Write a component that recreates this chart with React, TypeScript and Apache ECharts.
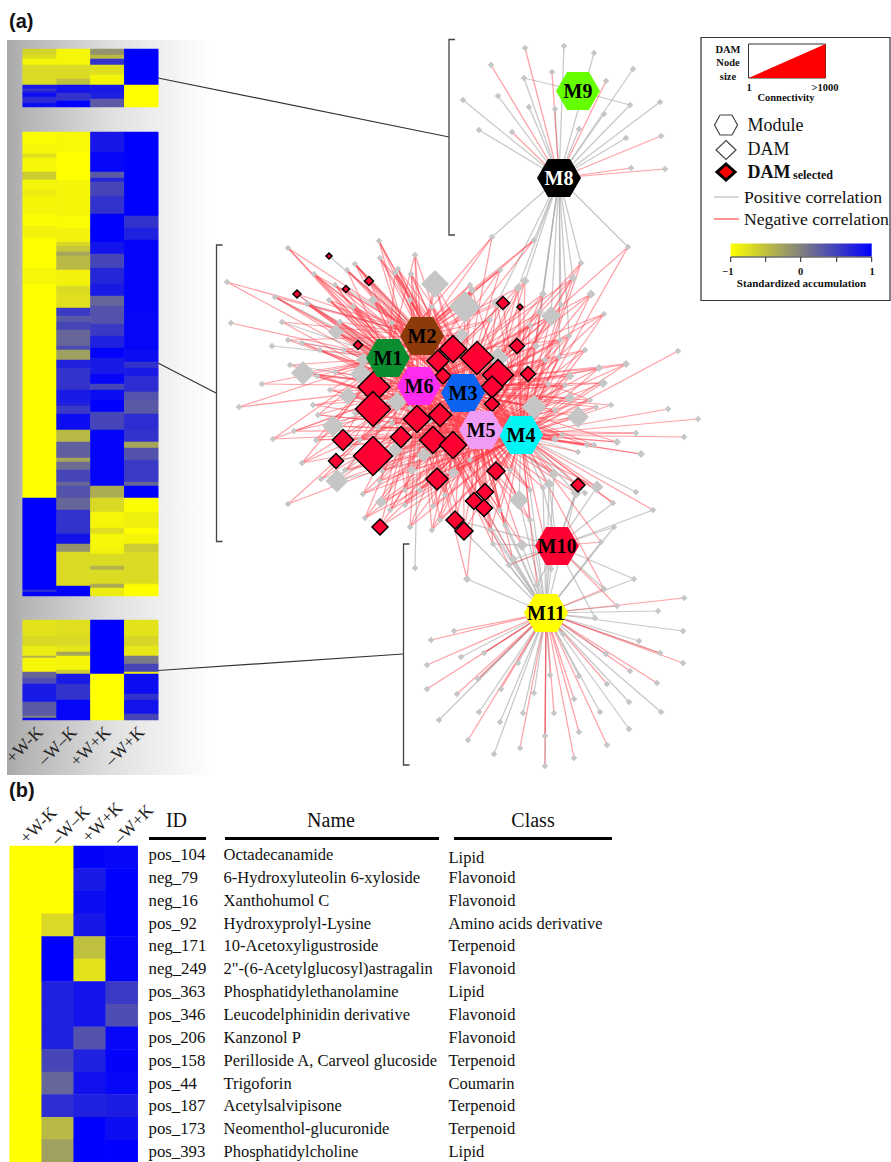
import React, { useEffect, useRef } from "react";
import * as echarts from "echarts";

const SERIF = "Liberation Serif";
const conditions = ["+W-K", "–W–K", "+W+K", "–W+K"];

// Heatmap columns as [rows, standardized accumulation] runs
const heatTop = [
  [[3,-.65],[2,-.75],[3,-.93],[10,-.72],[2,.8],[1,.55],[1,.75],[2,.9],[3,.65],[2,.9]],
  [[8,-.93],[7,-.72],[3,-.5],[4,.85],[4,.6],[3,1]],
  [[3,-.15],[2,-.45],[3,.6],[5,-.75],[5,-.92],[4,.8],[3,.75],[4,.3]],
  [[18,1],[11,-1]],
];
const heatMiddle = [
  [[6,-.98],[5,-.93],[2,-.75],[7,-.93],[4,-.6],[5,-.92],[3,-.85],[9,-.92],[6,-.98],[6,-.9],[15,-1],[8,-.93],[107,-1],[46,1],[1,.6],[2,1]],
  [[10,-.95],[14,-1],[18,-.92],[6,-.97],[7,-.9],[2,-.7],[3,-.55],[2,-.3],[7,-.45],[8,-.9],[4,-.72],[7,-.75],[4,.55],[3,.3],[4,.45],[8,.2],[2,.4],[5,-.25],[4,.75],[4,.6],[7,.6],[6,.8],[2,.75],[4,.55],[8,.9],[6,-.45],[8,.25],[2,-.3],[4,.15],[6,.45],[2,.2],[6,.35],[6,.2],[12,.6],[5,.85],[4,-.15],[17,-.72],[5,1]],
  [[10,.82],[10,.95],[3,.3],[2,.7],[7,.45],[9,.6],[14,1],[6,.85],[7,.45],[8,.7],[6,.8],[5,.2],[9,.35],[6,.55],[6,.75],[5,.98],[8,.8],[5,.95],[3,.45],[5,.9],[6,1],[9,.45],[28,.97],[6,-.35],[7,-.7],[8,-.93],[3,-.75],[8,-.93],[2,-.9],[6,-.72],[2,-.4],[7,-.72],[2,-.35],[4,-.85]],
  [[42,1],[6,.6],[6,.75],[34,.97],[21,.95],[6,.9],[3,.6],[4,.8],[8,.65],[4,.35],[7,.3],[8,.65],[6,.6],[3,-.3],[6,.35],[11,.55],[2,.2],[6,1],[7,-.98],[8,-.88],[3,-1],[5,-.92],[4,-.6],[16,-.72],[1,-.95],[5,-1]],
];
const heatBottom = [
  [[8,-.78],[5,-.7],[5,-.85],[1,-.4],[7,-.93],[3,.2],[3,.4],[9,.8],[7,.3],[1,0],[1,.9]],
  [[8,-.75],[5,-.7],[3,-.8],[2,-.3],[7,-.92],[2,-.6],[5,.8],[8,.6],[10,.95]],
  [[27,1],[23,-1]],
  [[8,-.78],[5,-.68],[5,-.8],[4,.05],[4,.45],[1,-.85],[10,.9],[3,.6],[7,.85],[3,.45]],
];
const selectedPanel = [
  [-1,-1,-1,-1,-1,-1,-1,-1,-1,-1,-1,-1,-1,-1],
  [-1,-1,-1,-.7,1,1,.75,.75,.75,.45,.2,.65,-.45,-.25],
  [.98,.8,.9,.82,-.5,-.78,.85,.85,.35,.75,.87,.75,1,1],
  [.95,1,1,1,.97,.97,.55,.4,.95,.98,.95,.78,.9,1],
];

const tableIds = ["pos_104","neg_79","neg_16","pos_92","neg_171","neg_249","pos_363","pos_346","pos_206","pos_158","pos_44","pos_187","pos_173","pos_393"];
const tableNames = ["Octadecanamide","6-Hydroxyluteolin 6-xyloside","Xanthohumol C","Hydroxyprolyl-Lysine","10-Acetoxyligustroside","2\"-(6-Acetylglucosyl)astragalin","Phosphatidylethanolamine","Leucodelphinidin derivative","Kanzonol P","Perilloside A, Carveol glucoside","Trigoforin","Acetylsalvipisone","Neomenthol-glucuronide","Phosphatidylcholine"];
const tableClasses = ["Lipid","Flavonoid","Flavonoid","Amino acids derivative","Terpenoid","Flavonoid","Lipid","Flavonoid","Flavonoid","Terpenoid","Coumarin","Terpenoid","Terpenoid","Lipid"];

// Network modules
const moduleKeys = ["1","2","3","4","5","6","8","9","A","B"];
const moduleNames = ["M1","M2","M3","M4","M5","M6","M8","M9","M10","M11"];
const moduleX = [388,422,463,521,481,419,559,578,557,546];
const moduleY = [358,336,393,435,430,386,178,91,546,613];
const moduleColors = ["#0b8c2e","#8b3a08","#0a63f0","#00f5f5","#f09cf5","#ff2cf0","#000000","#66ff00","#ff0033","#ffff00"];

// DAM nodes: [x, y, size, modules with negative edges, modules with positive edges]
type Dam = [number, number, number, string, string];
const damTop: Dam[] = [
  [525,48,5,"8",""],[564,46,5,"","8"],[594,53,5,"","8"],[491,65,5,"8",""],[552,72,5,"8",""],[524,78,5,"","89"],
  [633,69,5,"","8"],[606,81,5,"8",""],[630,105,5,"","89"],[463,100,5,"","8"],[498,96,5,"","8"],[529,107,5,"","8"],
  [555,109,5,"","8"],[604,114,5,"","8"],[660,102,5,"","8"],[479,130,5,"","8"],[512,132,5,"8",""],[579,129,5,"","8"],
  [626,138,5,"","8"],[661,136,5,"8",""],[631,168,5,"8",""],[665,169,5,"8",""],
];
const damClusterLeft: Dam[] = [
  [288,248,5,"126",""],[379,241,5,"2635",""],[380,258,5,"2634",""],[355,264,5,"36245","2"],[314,274,5,"23645",""],[395,273,5,"24315",""],
  [398,269,5,"2345",""],[411,274,5,"25364",""],[435,284,28,"26345",""],[227,282,5,"26",""],[275,297,5,"1264","3"],[329,300,6,"23651",""],
  [307,304,5,"16354","2"],[373,300,10,"24536",""],[353,307,5,"12645",""],[432,307,6,"13245",""],[231,323,5,"1",""],[282,322,5,"25","1"],
  [340,322,7,"26134",""],[336,332,16,"3564","1"],[392,323,5,"16345",""],[288,340,5,"26","1"],[272,346,5,"","1"],[302,343,5,"146",""],
  [290,365,6,"15","3"],[303,373,24,"1364","6"],[262,384,5,"16",""],[317,376,5,"1645",""],[361,374,22,"3245","1"],[363,360,14,"3564",""],
  [239,407,5,"16",""],[348,396,18,"4635",""],[397,402,20,"2534",""],[313,405,5,"653",""],[333,426,22,"1345","6"],[294,431,5,"635",""],
  [273,439,5,"165",""],[316,440,5,"1654",""],[302,463,5,"1653",""],[395,450,16,"4563",""],[424,455,15,"3456",""],[337,481,23,"53","46"],
  [321,479,5,"63","5"],[382,471,6,"3645",""],[380,481,5,"4563",""],[412,470,10,"5634",""],[454,472,10,"3645",""],[363,494,5,"3645",""],
  [381,502,12,"4563",""],[288,504,5,"65",""],[365,518,5,"5643",""],[410,527,5,"3645",""],[432,530,5,"3546",""],[433,506,5,"4536",""],
  [355,413,5,"1534",""],[392,423,5,"2634",""],[410,408,5,"3514",""],[378,427,5,"3425",""],[430,421,6,"1423",""],[470,460,6,"2634",""],
  [344,350,5,"2364",""],[330,390,5,"1453",""],[350,445,5,"2345",""],[405,490,5,"1456",""],[445,495,5,"1635",""],[410,300,6,"5634",""],
  [320,350,5,"156",""],[335,372,5,"1265",""],[318,415,5,"1654",""],[345,470,5,"6543",""],[405,505,5,"6543",""],[390,510,5,"4563",""],
  [360,440,6,"2345",""],[420,490,5,"5463",""],[440,520,6,"5643",""],[347,270,5,"2134",""],[335,285,5,"2641",""],[415,255,5,"2136",""],
];
const damClusterRight: Dam[] = [
  [492,237,5,"123","8"],[534,240,5,"126","8"],[628,247,5,"43","8"],[581,263,5,"534","8"],[573,278,9,"3465","8"],[525,281,9,"6345","8"],
  [518,288,9,"3425","8"],[543,294,8,"4356","8"],[591,294,9,"3546",""],[472,290,8,"2613",""],[497,303,11,"3245","8"],[551,316,20,"4536","8"],
  [540,312,8,"3546","8"],[561,305,5,"45","8"],[604,314,5,"4536",""],[465,307,32,"3621",""],[569,336,5,"4635","8"],[536,346,8,"5346","8"],
  [559,357,5,"3465","8"],[498,358,22,"3624",""],[462,335,14,"2613",""],[678,351,5,"4",""],[626,364,8,"4536",""],[599,368,8,"3456",""],
  [570,376,9,"3456",""],[603,383,10,"4536",""],[548,384,6,"5346",""],[565,385,5,"4635",""],[611,405,5,"43",""],[570,398,11,"3546",""],
  [596,407,5,"453",""],[668,409,5,"4",""],[698,419,5,"4",""],[534,407,25,"3546",""],[578,417,22,"453",""],[684,437,5,"4",""],
  [636,433,5,"45",""],[617,442,8,"453",""],[641,454,8,"45",""],[555,439,8,"4653",""],[587,445,5,"456",""],[594,445,5,"453",""],
  [578,452,5,"5","4"],[562,435,5,"4563",""],[554,474,11,"46","5B"],[549,484,11,"6","4AB"],[543,488,5,"5","4AB"],[597,487,13,"45","A"],
  [636,492,5,"","4"],[576,493,11,"5","4AB"],[585,493,5,"","4"],[613,503,5,"43","A"],[653,510,6,"4","A"],[614,527,6,"","AB"],
  [601,542,6,"A4","B"],[519,500,20,"563","4B"],[522,545,12,"56","BA"],[493,544,6,"65","BA"],[453,473,11,"3645",""],[513,559,9,"56","BA"],
  [509,565,7,"A6","BA"],[537,585,6,"4","BA"],[551,569,6,"4","AB"],[467,579,8,"56","B"],[415,568,5,"","6"],[634,579,5,"","AB"],
  [604,589,7,"B4","A"],[617,606,6,"A","B"],[595,618,6,"","BA"],[530,520,6,"463","B"],[505,525,6,"4536","B"],[490,530,6,"3564","B"],
  [470,285,6,"2134",""],[500,270,6,"1326",""],[490,320,6,"2316",""],[530,325,6,"3564",""],[560,340,6,"3541",""],[585,350,6,"4356",""],
  [545,360,6,"5643",""],[590,400,6,"4532",""],[555,410,6,"4356",""],[510,470,6,"4563",""],[530,490,6,"5463","B"],[500,510,6,"5463","B"],
];
const damBottom: Dam[] = [
  [431,640,5,"B",""],[454,631,6,"B",""],[461,657,5,"","B"],[484,653,6,"B","B"],[427,665,5,"B",""],[427,689,5,"B",""],
  [478,679,6,"B","B"],[457,694,5,"B",""],[501,689,6,"B",""],[518,663,6,"","B"],[534,693,6,"","B"],[439,720,6,"","B"],
  [479,712,6,"","B"],[500,722,6,"","B"],[523,713,6,"","B"],[468,740,6,"B",""],[494,754,6,"","B"],[520,748,6,"B",""],
  [545,736,6,"B",""],[554,713,5,"B",""],[550,675,6,"","B"],[545,766,6,"B","B"],[574,758,6,"B",""],[579,732,6,"B",""],
  [574,699,6,"B",""],[579,676,6,"","B"],[563,634,5,"","B"],[600,712,6,"","B"],[607,745,6,"B",""],[629,729,6,"","B"],
  [629,702,6,"","B"],[607,684,6,"B",""],[606,654,6,"","B"],[630,671,6,"B",""],[639,641,6,"","B"],[657,683,6,"B",""],
  [661,712,6,"","B"],[660,653,6,"B","B"],[684,598,6,"B",""],[658,611,6,"","B"],[683,631,6,"","B"],[683,663,6,"B",""],
];
const damSelected: Dam[] = [
  [329,256,6,"","2"],[369,281,9,"26",""],[346,289,7,"13","2"],[297,294,8,"26","1"],[358,345,9,"16",""],[374,387,32,"2635",""],
  [373,409,35,"1563",""],[417,419,27,"3452",""],[440,415,23,"3561",""],[343,440,21,"165",""],[401,437,21,"3564",""],[433,440,27,"1453",""],
  [453,445,27,"3456",""],[373,456,39,"1563",""],[336,461,15,"65","5"],[437,479,22,"4563",""],[380,527,16,"5643",""],[438,361,22,"1235",""],
  [453,349,27,"1235",""],[443,376,16,"2456",""],[477,358,33,"2361",""],[498,375,31,"2436",""],[492,387,22,"3465",""],[492,404,15,"4563",""],
  [496,471,18,"4536",""],[485,492,17,"4635",""],[474,501,17,"5463","B"],[484,508,17,"3456","B"],[455,520,18,"563","A"],[464,531,18,"5643","B"],
  [528,374,15,"3456",""],[517,346,15,"3456",""],[503,303,13,"3426",""],[520,307,6,"43",""],[578,485,14,"45","A"],
];

const LEG_TICKS = [730.7, 765.7, 800.7, 836.7, 871.7];
const PANEL_B_LABEL_X = [38, 70, 102, 133];
const PANEL_B_LABEL_Y = [825, 825, 822, 824];

const expand = (runs: number[][]) => runs.flatMap(([n, v]) => Array(n).fill(v));
const cells = (cols: number[][]) => cols.flatMap((col, c) => col.map((v, r) => [c, r, v]));
const rowsOf = (n: number) => Array.from({ length: n }, (_, i) => String(i));
const HEX = "path://M0 50 L25 0 L75 0 L100 50 L75 100 L25 100Z";

function edges(nodes: Dam[], field: 3 | 4) {
  const out: any[] = [];
  nodes.forEach((n) => {
    for (const k of n[field] as string) {
      const m = moduleKeys.indexOf(k);
      out.push({ coords: [[moduleX[m], moduleY[m]], [n[0], n[1]]] });
    }
  });
  return out;
}

function txt(text: string, x: number, y: number, fontSize: number, extra: any = {}) {
  return {
    type: "text",
    silent: true,
    style: { text, x, y, fontSize, fontFamily: SERIF, fill: "#111", align: "left", verticalAlign: "middle", ...extra },
  };
}
const line = (x1: number, y1: number, x2: number, y2: number, stroke = "#333", lineWidth = 1.2) => ({
  type: "line",
  silent: true,
  shape: { x1, y1, x2, y2 },
  style: { stroke, lineWidth },
});
const bracket = (x: number, y1: number, y2: number) => ({
  type: "polyline",
  silent: true,
  shape: { points: [[x + 6, y1], [x, y1], [x, y2], [x + 6, y2]] },
  style: { stroke: "#444", lineWidth: 1.3, fill: "none" },
});

function buildGraphics() {
  const g: any[] = [];
  g.push({
    type: "rect",
    silent: true,
    shape: { x: 7, y: 40, width: 205, height: 735 },
    style: {
      fill: new echarts.graphic.LinearGradient(0, 0, 1, 0, [
        { offset: 0, color: "#a9a9a9" },
        { offset: 0.08, color: "#b4b4b4" },
        { offset: 0.5, color: "#dfdfdf" },
        { offset: 1, color: "#ffffff" },
      ]),
    },
  });
  g.push(txt("(a)", 9, 21, 20, { fontFamily: "Liberation Sans", fontWeight: "bold" }));
  g.push(txt("(b)", 9, 790, 20, { fontFamily: "Liberation Sans", fontWeight: "bold" }));
  g.push(line(158, 78, 449, 137), line(158, 363, 216, 393), line(158, 670.5, 403, 654));
  g.push(bracket(449, 39.5, 235), bracket(216.5, 245, 541.5), bracket(403.5, 544, 765));

  // rotated column labels above panel (b)
  conditions.forEach((c, i) => {
    g.push({
      type: "text",
      silent: true,
      x: PANEL_B_LABEL_X[i],
      y: PANEL_B_LABEL_Y[i],
      rotation: Math.PI / 4,
      style: { text: c, fontSize: 17.5, fontFamily: SERIF, fill: "#222", align: "center", verticalAlign: "middle" },
    });
  });

  // table
  g.push(txt("ID", 176.5, 820, 20, { align: "center" }), txt("Name", 331, 820, 20, { align: "center" }), txt("Class", 533, 820, 20, { align: "center" }));
  g.push(line(149, 838.5, 206, 838.5, "#000", 3), line(225, 838.5, 439, 838.5, "#000", 3), line(454, 838.5, 612, 838.5, "#000", 3));
  tableIds.forEach((t, i) => {
    const y = 854.5 + i * 22.85;
    g.push(txt(t, 148.5, y, 16.8), txt(tableNames[i], 223.5, y, 16.5), txt(tableClasses[i], 448.5, y + (i === 0 ? 2.5 : 0), 16.5));
  });

  // legend
  g.push({ type: "rect", silent: true, shape: { x: 701, y: 37.5, width: 189, height: 263 }, style: { fill: "#fff", stroke: "#333", lineWidth: 1.2 } });
  g.push(
    txt("DAM", 728, 49, 10.5, { align: "center", fontWeight: "bold" }),
    txt("Node", 728, 62.5, 10.5, { align: "center", fontWeight: "bold" }),
    txt("size", 728, 76, 10.5, { align: "center", fontWeight: "bold" }),
  );
  g.push({ type: "rect", silent: true, shape: { x: 748.5, y: 44, width: 77, height: 34 }, style: { fill: "#fff", stroke: "#333", lineWidth: 1 } });
  g.push({ type: "polygon", silent: true, shape: { points: [[748.5, 78], [825.5, 44], [825.5, 78]] }, style: { fill: "#ff0000" } });
  g.push(
    txt("1", 749, 87, 10.5, { align: "center", fontWeight: "bold" }),
    txt(">1000", 825, 87, 10.5, { align: "center", fontWeight: "bold" }),
    txt("Connectivity", 786, 97, 10.5, { align: "center", fontWeight: "bold" }),
  );
  g.push({ type: "polygon", silent: true, shape: { points: [[714.5, 125], [720, 115], [732, 115], [737.5, 125], [732, 135], [720, 135]] }, style: { fill: "#fff", stroke: "#444", lineWidth: 1.2 } });
  g.push({ type: "polygon", silent: true, shape: { points: [[726, 140.5], [736, 150], [726, 159.5], [716, 150]] }, style: { fill: "#fff", stroke: "#444", lineWidth: 1.2 } });
  g.push({ type: "polygon", silent: true, shape: { points: [[726, 164], [735, 172], [726, 180], [717, 172]] }, style: { fill: "#ff0000", stroke: "#000", lineWidth: 3 } });
  g.push(
    txt("Module", 747.5, 125, 18),
    txt("DAM", 747.5, 149, 18),
    txt("DAM", 747.5, 172, 18, { fontWeight: "bold" }),
    txt("selected", 793, 175, 12, { fontWeight: "bold" }),
    txt("Positive correlation", 744, 197, 17.7),
    txt("Negative correlation", 744, 219, 17.7),
  );
  g.push(line(714, 197, 739, 197, "#c8c8c8", 1.5), line(714, 219, 739, 219, "#ff7070", 1.5));
  g.push({
    type: "rect",
    silent: true,
    shape: { x: 730.7, y: 243.5, width: 141, height: 13 },
    style: {
      fill: new echarts.graphic.LinearGradient(0, 0, 1, 0, [
        { offset: 0, color: "#ffff00" },
        { offset: 0.5, color: "#808080" },
        { offset: 1, color: "#0000ff" },
      ]),
    },
  });
  g.push(line(730.7, 257, 871.7, 257, "#222", 1));
  LEG_TICKS.forEach((x) => g.push(line(x, 257, x, 262, "#222", 1)));
  g.push(
    txt("−1", 728, 271.5, 10.5, { align: "center", fontWeight: "bold" }),
    txt("0", 800.7, 271.5, 10.5, { align: "center", fontWeight: "bold" }),
    txt("1", 872, 271.5, 10.5, { align: "center", fontWeight: "bold" }),
    txt("Standardized accumulation", 801.5, 283, 11, { align: "center", fontWeight: "bold" }),
  );
  return g;
}

function heatAxes(grids: any[], xAxes: any[], yAxes: any[], rows: number, box: number[], showLabels: boolean) {
  const i = grids.length;
  grids.push({ left: box[0], top: box[1], width: box[2], height: box[3], containLabel: false, outerBoundsMode: "none" });
  xAxes.push({
    type: "category",
    gridIndex: i,
    data: conditions,
    position: "bottom",
    show: showLabels,
    axisLine: { show: false },
    axisTick: { show: false },
    splitLine: { show: false },
    axisLabel: { rotate: 45, interval: 0, margin: 9, fontFamily: SERIF, fontSize: 17.5, color: "#222" },
  });
  yAxes.push({ type: "category", gridIndex: i, data: rowsOf(rows), inverse: true, show: false });
  return i;
}

export default function App() {
  const ref = useRef<HTMLDivElement>(null);
  useEffect(() => {
    const chart = echarts.init(ref.current!, undefined, { renderer: "svg" });
    const grids: any[] = [];
    const xAxes: any[] = [];
    const yAxes: any[] = [];
    const panels: [number[][], number[], boolean][] = [
      [heatTop.map(expand), [22.7, 49, 135.5, 58], false],
      [heatMiddle.map(expand), [22.7, 132, 135.5, 464], false],
      [heatBottom.map(expand), [22.7, 620, 135.5, 100], true],
      [selectedPanel, [9.7, 846, 128, 316.4], false],
    ];
    const heatSeries = panels.map(([cols, box, labels]) => {
      const i = heatAxes(grids, xAxes, yAxes, cols[0].length, box, labels);
      return {
        type: "heatmap",
        xAxisIndex: i,
        yAxisIndex: i,
        data: cells(cols),
        silent: true,
        progressive: 0,
        emphasis: { disabled: true },
      };
    });
    // pixel-aligned frame for the network
    grids.push({ left: 0, top: 0, width: 891, height: 1162, outerBoundsMode: "none" });
    const net = grids.length - 1;
    xAxes.push({ type: "value", gridIndex: net, min: 0, max: 891, show: false });
    yAxes.push({ type: "value", gridIndex: net, min: 0, max: 1162, inverse: true, show: false });

    const allDam = [...damTop, ...damClusterLeft, ...damClusterRight, ...damBottom, ...damSelected];
    const common = { xAxisIndex: net, yAxisIndex: net, silent: true };
    const edgeSeries = (field: 3 | 4, color: string, opacity: number, z: number) => ({
      ...common,
      type: "lines",
      coordinateSystem: "cartesian2d",
      data: edges(allDam, field),
      z,
      lineStyle: { color, width: 1.25, opacity, curveness: 0 },
      emphasis: { disabled: true },
    });
    const greyDam = allDam.filter((d) => !damSelected.includes(d));

    chart.setOption({
      animation: false,
      backgroundColor: "#ffffff",
      graphic: { elements: buildGraphics() },
      grid: grids,
      xAxis: xAxes,
      yAxis: yAxes,
      visualMap: {
        show: false,
        type: "continuous",
        min: -1,
        max: 1,
        dimension: 2,
        seriesIndex: [0, 1, 2, 3],
        inRange: { color: ["#ffff00", "#808080", "#0000ff"] },
      },
      series: [
        ...heatSeries,
        edgeSeries(4, "#b0b0b0", 0.7, 3),
        edgeSeries(3, "#ff3a48", 0.48, 4),
        {
          ...common,
          type: "scatter",
          z: 5,
          clip: false,
          symbol: "diamond",
          symbolSize: (v: number[]) => Math.max(v[2], 6.5),
          data: greyDam.map((d) => [d[0], d[1], d[2]]),
          itemStyle: { color: "#c6c6c6", opacity: 1 },
        },
        {
          ...common,
          type: "scatter",
          z: 6,
          clip: false,
          symbol: "diamond",
          symbolSize: (v: number[]) => v[2],
          data: damSelected.map((d) => [d[0], d[1], d[2]]),
          itemStyle: { color: "#ff0033", borderColor: "#000", borderWidth: 1.5, opacity: 1 },
        },
        {
          ...common,
          type: "scatter",
          z: 7,
          clip: false,
          symbol: HEX,
          symbolSize: [44, 38],
          symbolKeepAspect: false,
          data: moduleNames.map((name, i) => ({
            name,
            value: [moduleX[i], moduleY[i]],
            itemStyle: { color: moduleColors[i], opacity: 1 },
            label: { color: name === "M8" ? "#fff" : "#000" },
          })),
          label: {
            show: true,
            position: "inside",
            formatter: "{b}",
            fontFamily: SERIF,
            fontWeight: "bold",
            fontSize: 20,
          },
        },
      ],
    });
    return () => chart.dispose();
  }, []);
  return <div ref={ref} style={{ position: "absolute", left: 0, top: 0, width: 891, height: 1162, overflow: "hidden" }} />;
}
